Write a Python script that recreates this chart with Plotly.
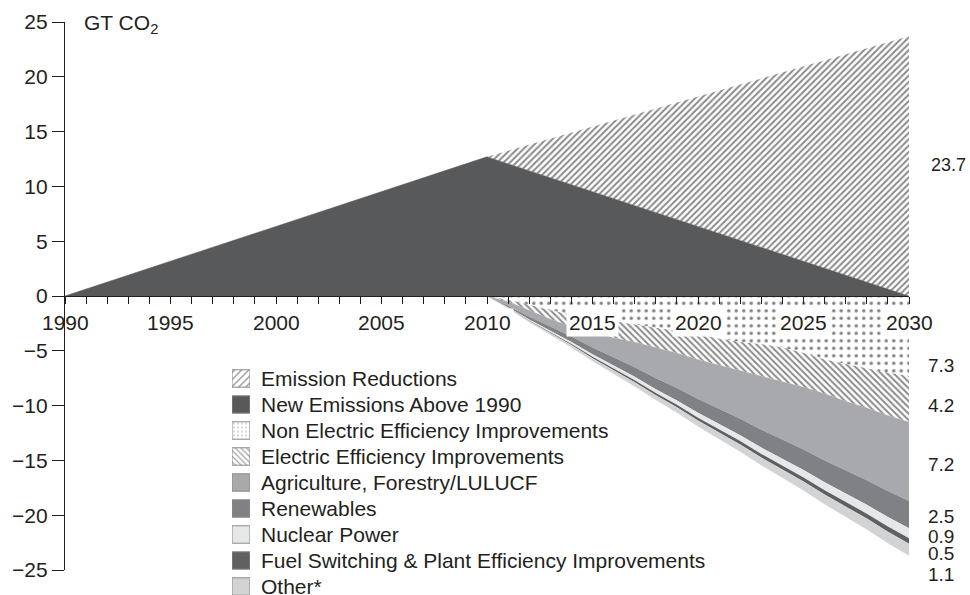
import plotly.graph_objects as go

# ---------------- data ----------------
years_hist = [1990, 2010, 2030]
new_emissions = [0, 12.7, 0]
emission_reductions = [0, 0, 23.7]

years = list(range(2010, 2031))
non_electric = [0, -0.35, -0.8, -1.3, -1.7, -2.0, -2.3, -2.6, -2.9, -3.2, -3.5,
                -3.9, -4.2, -4.4, -4.7, -5.2, -5.8, -6.2, -6.6, -7.0, -7.3]
electric = [0, -0.15, -0.5, -0.8, -1.1, -1.3, -1.5, -1.6, -1.8, -2.0, -2.3,
            -2.4, -2.6, -2.9, -3.1, -3.1, -3.1, -3.4, -3.6, -3.9, -4.2]
agriculture = [0, -0.4, -0.6, -0.7, -0.9, -1.4, -1.8, -2.3, -2.8, -3.2, -3.6,
               -4.0, -4.4, -4.9, -5.3, -5.7, -6.1, -6.3, -6.6, -6.9, -7.2]
years_lin = [2010, 2030]
renewables = [0, -2.5]
nuclear = [0, -0.9]
fuel_switching = [0, -0.5]
other = [0, -1.1]

legend_names = ["Emission Reductions", "New Emissions Above 1990",
                "Non Electric Efficiency Improvements", "Electric Efficiency Improvements",
                "Agriculture, Forestry/LULUCF", "Renewables", "Nuclear Power",
                "Fuel Switching & Plant Efficiency Improvements", "Other*"]

x_tick_years = [1990, 1995, 2000, 2005, 2010, 2015, 2020, 2025, 2030]
y_ticks = [-25, -20, -15, -10, -5, 0, 5, 10, 15, 20, 25]
y_title = "GT CO<sub>2</sub>"

# ---------------- styles ----------------
FONT = "Liberation Sans, Arial, sans-serif"
TXT = "#231f20"
W, H = 970, 595
ML, MR, MT, MB = 65, 61, 22, 0
plot_h = H - MT - MB
plot_w = W - ML - MR
ymin, ymax = -25, 25
d0 = (H - MB - 570) / plot_h  # main y domain bottom (px 570)
x_axis_pos = d0 + (1 - d0) * (0 - ymin) / (ymax - ymin)

C_DARK = "#58595b"
C_AGRI = "#a7a9ac"
C_RENEW = "#808184"
C_NUC = "#e6e7e8"
C_FUEL = "#5f6062"
C_OTHER = "#d1d3d4"

hatch_up = dict(shape="/", fgcolor="#111111", bgcolor="white", size=4.5, solidity=0.42)
hatch_dn = dict(shape="\\", fgcolor="#111111", bgcolor="white", size=4.5, solidity=0.42)
dots = dict(shape=".", fgcolor="#000000", bgcolor="white", size=7.5, solidity=0.17)

fig = go.Figure()

# upper stack
fig.add_trace(go.Scatter(x=years_hist, y=new_emissions, stackgroup="up", mode="lines",
                         line=dict(width=0.5, color=C_DARK), fillcolor=C_DARK,
                         showlegend=False, hoverinfo="skip"))
fig.add_trace(go.Scatter(x=years_hist, y=emission_reductions, stackgroup="up", mode="lines",
                         line=dict(width=0), fillcolor="white", fillpattern=hatch_up,
                         showlegend=False, hoverinfo="skip"))

# lower stack
lower = [
    (years, non_electric, "white", dots),
    (years, electric, "white", hatch_dn),
    (years, agriculture, C_AGRI, None),
    (years_lin, renewables, C_RENEW, None),
    (years_lin, nuclear, C_NUC, None),
    (years_lin, fuel_switching, C_FUEL, None),
    (years_lin, other, C_OTHER, None),
]
for i, (xs, ys, col, pat) in enumerate(lower):
    kw = dict(x=xs, y=ys, stackgroup="down", mode="lines", line=dict(width=0),
              fillcolor=col, showlegend=False, hoverinfo="skip")
    if i == 0:
        kw["stackgaps"] = "interpolate"
    if pat is not None:
        kw["fillpattern"] = pat
    fig.add_trace(go.Scatter(**kw))

# legend drawn as a tiny bar chart on its own axes
leg_colors = ["white", C_DARK, "white", "white", C_AGRI, C_RENEW, C_NUC, C_FUEL, C_OTHER]
leg_shapes = ["/", "", ".", "\\", "", "", "", "", ""]
leg_sizes = [5, 8, 4, 4, 8, 8, 8, 8, 8]
leg_sol = [0.3, 0.3, 0.12, 0.3, 0.3, 0.3, 0.3, 0.3, 0.3]
fig.add_trace(go.Bar(y=legend_names, x=[1] * len(legend_names), base=0, orientation="h",
                     width=0.67, xaxis="x2", yaxis="y2", showlegend=False, hoverinfo="skip",
                     marker=dict(color=leg_colors, line=dict(color="#8a8a8a", width=1),
                                 pattern=dict(shape=leg_shapes, fgcolor="#333333",
                                              size=leg_sizes, solidity=leg_sol))))

row_px = 26
leg_top_px = 365.5
leg_top = (H - MB - leg_top_px) / plot_h
rows_visible = (H - MB - leg_top_px) / row_px

annotations = []
for i, yr in enumerate(x_tick_years):
    annotations.append(dict(x=yr, y=0, xref="x", yref="y", text=str(yr), showarrow=False,
                            yshift=-26, font=dict(family=FONT, size=21, color=TXT),
                            bgcolor="rgba(0,0,0,0)" if i == 0 else "white", borderpad=2))
annotations.append(dict(x=(82 - ML) / plot_w, y=1, xref="paper", yref="paper", text=y_title,
                        xanchor="left", yanchor="middle", yshift=-2, showarrow=False,
                        font=dict(family=FONT, size=21, color=TXT)))
end_values = [emission_reductions[-1], non_electric[-1], electric[-1], agriculture[-1],
              renewables[-1], nuclear[-1], fuel_switching[-1], other[-1]]
label_y = [11.95, -6.3, -9.95, -15.4, -20.1, -21.9, -23.45, -25.4]
for k, (v, ly) in enumerate(zip(end_values, label_y)):
    py = d0 + (1 - d0) * (ly - ymin) / (ymax - ymin)
    if k == 0:
        annotations.append(dict(x=1, y=py, xref="paper", yref="paper", text=f"{abs(v):.1f}",
                                xanchor="right", yanchor="middle", showarrow=False,
                                xshift=W - ML - plot_w - 2,
                                font=dict(family=FONT, size=18, color=TXT)))
    else:
        annotations.append(dict(x=1, y=py, xref="paper", yref="paper", text=f"{abs(v):.1f}",
                                xanchor="left", yanchor="middle", showarrow=False,
                                xshift=17, font=dict(family=FONT, size=19, color=TXT)))

fig.update_layout(
    width=W, height=H, margin=dict(l=ML, r=MR, t=MT, b=MB, autoexpand=False),
    paper_bgcolor="white", plot_bgcolor="white",
    font=dict(family=FONT, color=TXT),
    xaxis=dict(range=[1990, 2030], anchor="free", position=x_axis_pos, automargin=False,
               showline=True, linecolor="#231f20", linewidth=1.2,
               ticks="outside", ticklen=7, tickcolor="#231f20", tickwidth=1,
               tick0=1990, dtick=1, showticklabels=False, showgrid=False, zeroline=False),
    yaxis=dict(range=[ymin, ymax], domain=[d0, 1], anchor="x", automargin=False,
               showline=True, linecolor="#231f20", linewidth=1.2,
               ticks="outside", ticklen=12, tickcolor="#231f20", tickwidth=1,
               tickvals=y_ticks, tickfont=dict(family=FONT, size=21, color=TXT),
               showgrid=False, zeroline=False),
    xaxis2=dict(domain=[(232 - ML) / plot_w, (250 - ML) / plot_w], range=[0, 1],
                anchor="y2", visible=False, fixedrange=True, automargin=False),
    yaxis2=dict(domain=[0, leg_top], anchor="x2", side="right", type="category",
                categoryorder="array", categoryarray=legend_names, automargin=False,
                range=[rows_visible - 0.5, -0.5], showline=False, showgrid=False,
                zeroline=False, ticks="", ticklabelstandoff=10,
                tickfont=dict(family=FONT, size=21, color=TXT)),
    annotations=annotations,
    showlegend=False,
)

fig.write_html("out.html", config={"displayModeBar": False},
               post_script="document.body.style.margin='0px';")
